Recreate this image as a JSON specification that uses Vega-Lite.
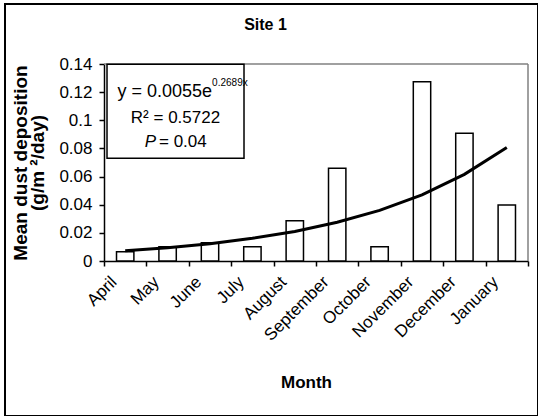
{
  "$schema": "https://vega.github.io/schema/vega-lite/v6.json",
  "width": 533,
  "height": 412,
  "autosize": {"type": "none"},
  "padding": {"left": 5, "top": 4, "right": 0, "bottom": 0},
  "background": "white",
  "config": {
    "view": {"stroke": "#000000", "strokeWidth": 2},
    "font": "Liberation Sans",
    "axis": {
      "labelFont": "Liberation Sans",
      "titleFont": "Liberation Sans",
      "labelColor": "#000000",
      "titleColor": "#000000",
      "domainColor": "#000000",
      "tickColor": "#000000",
      "grid": false
    }
  },
  "title": {
    "text": "Site 1",
    "font": "Liberation Sans",
    "fontSize": 16,
    "fontWeight": "bold",
    "color": "#000000",
    "anchor": "middle",
    "offset": -25,
    "baseline": "alphabetic",
    "dx": -6,
    "dy": 17
  },
  "resolve": {"scale": {"x": "independent"}, "axis": {"x": "independent"}},
  "layer": [
    {
      "data": {
        "values": [
          {"idx": 1, "month": "April", "value": 0.0065, "trend": 0.0072},
          {"idx": 2, "month": "May", "value": 0.0102, "trend": 0.0094},
          {"idx": 3, "month": "June", "value": 0.013, "trend": 0.0123},
          {"idx": 4, "month": "July", "value": 0.0102, "trend": 0.0161},
          {"idx": 5, "month": "August", "value": 0.0286, "trend": 0.021},
          {"idx": 6, "month": "September", "value": 0.0659, "trend": 0.0275},
          {"idx": 7, "month": "October", "value": 0.0102, "trend": 0.036},
          {"idx": 8, "month": "November", "value": 0.1274, "trend": 0.047},
          {"idx": 9, "month": "December", "value": 0.0908, "trend": 0.0616},
          {"idx": 10, "month": "January", "value": 0.0398, "trend": 0.0806}
        ]
      },
      "layer": [
        {
          "mark": {"type": "bar", "fill": "white", "stroke": "black", "strokeWidth": 1.5},
          "encoding": {
            "x": {
              "field": "month",
              "type": "nominal",
              "sort": {"field": "idx", "op": "min"},
              "scale": {"range": [99, 523], "paddingInner": 0.59, "paddingOuter": 0.295},
              "axis": {
                "orient": "bottom",
                "offset": -155,
                "ticks": false,
                "domain": true,
                "domainWidth": 1.5,
                "labelAngle": -45,
                "labelAlign": "right",
                "labelBaseline": "middle",
                "labelFontSize": 17,
                "labelPadding": 18,
                "labelOffset": -11,
                "labelOverlap": false,
                "title": "Month",
                "titleFontSize": 17,
                "titleFontWeight": "bold",
                "titleX": 301,
                "titleY": 126,
                "titleBaseline": "alphabetic"
              }
            },
            "y": {
              "field": "value",
              "type": "quantitative",
              "scale": {"domain": [0, 0.14], "range": [257, 60], "nice": false, "zero": true, "padding": 0},
              "axis": {
                "orient": "left",
                "offset": -99,
                "values": [0, 0.02, 0.04, 0.06, 0.08, 0.1, 0.12, 0.14],
                "format": "~g",
                "labelFontSize": 17,
                "labelPadding": 7,
                "tickSize": 5,
                "tickWidth": 1.5,
                "domainWidth": 1.5,
                "title": ["Mean dust deposition", "\u00a0\u00a0\u00a0\u00a0\u00a0\u00a0(g/m ²/day)"],
                "titleFontSize": 19,
                "titleFontWeight": "bold",
                "titleLineHeight": 17,
                "titlePadding": 11
              }
            }
          }
        },
        {
          "mark": {"type": "line", "color": "black", "strokeWidth": 3},
          "encoding": {
            "x": {"field": "month", "type": "nominal", "sort": {"field": "idx", "op": "min"}},
            "y": {"field": "trend", "type": "quantitative"}
          }
        }
      ]
    },
    {
      "data": {"values": [{"note": "frame"}]},
      "layer": [
        {
          "mark": {"type": "rule", "color": "#808080", "strokeWidth": 1.5},
          "encoding": {
            "x": {
              "datum": 0.5,
              "type": "quantitative",
              "scale": {"domain": [0.5, 10.5], "range": [99, 523], "nice": false, "zero": false, "padding": 0},
              "axis": {
                "orient": "bottom",
                "offset": -155,
                "values": [0.5, 1.5, 2.5, 3.5, 4.5, 5.5, 6.5, 7.5, 8.5, 9.5, 10.5],
                "labels": false,
                "domain": false,
                "ticks": true,
                "tickSize": 5,
                "tickWidth": 1.5,
                "title": null
              }
            },
            "x2": {"datum": 10.5},
            "y": {"datum": 0.14, "type": "quantitative"}
          }
        },
        {
          "mark": {"type": "rule", "color": "#808080", "strokeWidth": 1.5},
          "encoding": {
            "x": {"datum": 10.5, "type": "quantitative"},
            "y": {"datum": 0, "type": "quantitative"},
            "y2": {"datum": 0.14}
          }
        },
        {
          "mark": {"type": "rect", "fill": "white", "stroke": "black", "strokeWidth": 1.5},
          "encoding": {
            "x": {"datum": 0.571, "type": "quantitative"},
            "x2": {"datum": 3.802},
            "y": {"datum": 0.1398, "type": "quantitative"},
            "y2": {"datum": 0.073}
          }
        },
        {
          "mark": {"type": "text", "text": "y = 0.0055e", "align": "right", "baseline": "alphabetic", "fontSize": 18, "fontWeight": "normal", "font": "Liberation Sans", "fill": "#000000"},
          "encoding": {
            "x": {"datum": 3.047, "type": "quantitative"},
            "y": {"datum": 0.1168, "type": "quantitative"}
          }
        },
        {
          "mark": {"type": "text", "text": "0.2689x", "align": "left", "baseline": "alphabetic", "fontSize": 10, "fontWeight": "normal", "font": "Liberation Sans", "fill": "#000000"},
          "encoding": {
            "x": {"datum": 3.05, "type": "quantitative"},
            "y": {"datum": 0.1244, "type": "quantitative"}
          }
        },
        {
          "mark": {"type": "text", "text": "R² = 0.5722", "align": "center", "baseline": "alphabetic", "fontSize": 17, "fontWeight": "normal", "font": "Liberation Sans", "fill": "#000000"},
          "encoding": {
            "x": {"datum": 2.186, "type": "quantitative"},
            "y": {"datum": 0.0983, "type": "quantitative"}
          }
        },
        {
          "mark": {"type": "text", "text": "P", "align": "right", "baseline": "alphabetic", "fontSize": 17, "fontWeight": "normal", "fontStyle": "italic", "font": "Liberation Sans", "fill": "#000000"},
          "encoding": {
            "x": {"datum": 1.726, "type": "quantitative"},
            "y": {"datum": 0.0808, "type": "quantitative"}
          }
        },
        {
          "mark": {"type": "text", "text": "= 0.04", "align": "left", "baseline": "alphabetic", "fontSize": 17, "fontWeight": "normal", "font": "Liberation Sans", "fill": "#000000"},
          "encoding": {
            "x": {"datum": 1.797, "type": "quantitative"},
            "y": {"datum": 0.0808, "type": "quantitative"}
          }
        }
      ]
    }
  ]
}
